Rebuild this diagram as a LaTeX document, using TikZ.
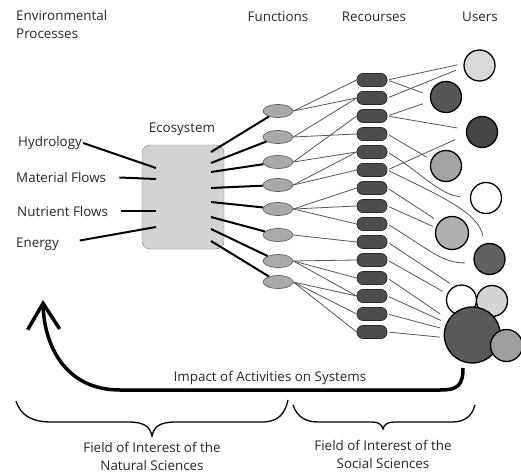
\documentclass[tikz,border=0pt]{standalone}
\usepackage{fontspec}
\setmainfont{Open Sans}
\usepackage{tikz}
\usetikzlibrary{arrows.meta,positioning,shapes.geometric}

\definecolor{ecofill}{HTML}{D3D3D3}
\definecolor{funcfill}{HTML}{A9A9A9}
\definecolor{resfill}{HTML}{4D4D4D}
\definecolor{linkgray}{HTML}{555555}

\begin{document}
\begin{tikzpicture}[x=1pt,y=-1pt,node distance=4.3pt,
  txt/.style={font=\fontsize{13.4}{18}\selectfont,text=black!85,inner sep=1pt},
  func/.style={ellipse,draw=black!60,fill=funcfill,line width=0.7pt,minimum width=30pt,minimum height=13pt,inner sep=0pt},
  res/.style={draw=black!85,fill=resfill,line width=0.7pt,rounded corners=6pt,minimum width=30pt,minimum height=13pt,inner sep=0pt},
  user/.style={circle,draw=black,line width=1.3pt,inner sep=0pt,minimum size=31pt},
  flow/.style={line width=2pt},
  link/.style={linkgray,line width=0.8pt},
  use/.style={linkgray,line width=0.8pt,shorten <=2pt,shorten >=6pt},
  brace/.style={line width=1.3pt}]
\useasboundingbox (0,0) rectangle (521,473);

% headings
\node[txt,anchor=north west,align=left] (env) at (15,9) {Environmental\\Processes};
\node[txt] (fn) at (278,17) {Functions};
\node[txt] (rc) at (374,17) {Recourses};
\node[txt] (us) at (480,17) {Users};

% ecosystem and inputs
\node[draw=black!50,fill=ecofill,rounded corners=8pt,minimum width=82pt,minimum height=104pt] (eco) at (183,197) {};
\node[txt] (ecol) at (182,129) {Ecosystem};
\node[txt,anchor=west] (hyd) at (17,143) {Hydrology};
\node[txt,anchor=west] (mat) at (15,177) {Material Flows};
\node[txt,anchor=west] (nut) at (16,211) {Nutrient Flows};
\node[txt,anchor=west] (ene) at (15,244) {Energy};
\coordinate (in1) at (156,168);
\coordinate (in2) at (156,179);
\coordinate (in3) at (156,211);
\coordinate (in4) at (156,227);
\draw[flow] (hyd.east) -- (in1);
\draw[flow,shorten <=12pt] (mat.east) -- (in2);
\draw[flow,shorten <=12pt] (nut.east) -- (in3);
\draw[flow,shorten <=20pt] (ene.east) -- (in4);

% functions
\node[func] (f1) at (278,111) {};
\node[func] (f2) at (278,137) {};
\node[func] (f3) at (278,162) {};
\node[func] (f4) at (278,185) {};
\node[func] (f5) at (278,209) {};
\node[func] (f6) at (278,235) {};
\node[func] (f7) at (278,261) {};
\node[func] (f8) at (278,282) {};
\coordinate (o1) at (211,152);
\coordinate (o2) at (211,163);
\coordinate (o3) at (211,172);
\coordinate (o4) at (211,188);
\coordinate (o5) at (211,202);
\coordinate (o6) at (211,217);
\coordinate (o7) at (211,229);
\coordinate (o8) at (211,241);
\draw[flow] (o1) -- (f1); \draw[flow] (o2) -- (f2); \draw[flow] (o3) -- (f3); \draw[flow] (o4) -- (f4);
\draw[flow] (o5) -- (f5); \draw[flow] (o6) -- (f6); \draw[flow] (o7) -- (f7); \draw[flow] (o8) -- (f8);

% recourses
\node[res] (r1) at (372,80) {};
\node[res,below=of r1] (r2) {};
\node[res,below=of r2] (r3) {};
\node[res,below=of r3] (r4) {};
\node[res,below=of r4] (r5) {};
\node[res,below=of r5] (r6) {};
\node[res,below=of r6] (r7) {};
\node[res,below=of r7] (r8) {};
\node[res,below=of r8] (r9) {};
\node[res,below=of r9] (r10) {};
\node[res,below=of r10] (r11) {};
\node[res,below=of r11] (r12) {};
\node[res,below=of r12] (r13) {};
\node[res,below=of r13] (r14) {};
\node[res,below=of r14] (r15) {};
\draw[link] (f1.east) -- (r1.west); \draw[link] (f1.east) -- (r2.west);
\draw[link] (f2.east) -- (r2.west); \draw[link] (f2.east) -- (r4.west);
\draw[link] (f3.east) -- (r3.west); \draw[link] (f3.east) -- (r5.west);
\draw[link] (f4.east) -- (r5.west); \draw[link] (f4.east) -- (r6.west);
\draw[link] (f5.east) -- (r7.west); \draw[link] (f5.east) -- (r8.west); \draw[link] (f5.east) -- (r9.west);
\draw[link] (f6.east) -- (r10.west);
\draw[link] (f7.east) -- (r11.west); \draw[link] (f7.east) -- (r12.west); \draw[link] (f7.east) -- (r13.west);
\draw[link] (f8.east) -- (r13.west); \draw[link] (f8.east) -- (r14.west); \draw[link] (f8.east) -- (r15.west);

% users
\node[user,fill=black!15] (u1) at (479.5,65.5) {};
\node[user,fill=black!66] (u2) at (446,97) {};
\node[user,fill=black!73] (u3) at (482,132) {};
\node[user,fill=black!36] (u4) at (446,166) {};
\node[user,fill=white] (u5) at (486,198) {};
\node[user,fill=black!31,minimum size=33pt] (u6) at (452,233) {};
\node[user,fill=black!62] (u7) at (489.5,259) {};
\node[user,fill=white,minimum size=30pt] (u8) at (461.5,300) {};
\node[user,fill=black!17] (u9) at (492,301) {};
\node[user,fill=black!65,minimum size=56pt] (u10) at (472.3,335) {};
\node[user,fill=black!38,minimum size=32pt] (u11) at (506.5,345.5) {};
\draw[use] (r1.east) -- (u1.173);
\draw[use,shorten >=8pt] (r1.east) -- (u2.175);
\draw[use,shorten >=8pt] (r2.east) -- (u1.186);
\draw[use,shorten >=8pt] (r3.east) -- (u2.195);
\draw[use,shorten >=9pt] (r3.east) -- (u3.171);
\draw[use,shorten >=5pt] (r4.east) -- (u4.157);
\draw[use,shorten >=10pt] (r5.east) .. controls (420,172) and (440,195) .. (u5.178);
\draw[use,shorten >=12pt] (r6.east) -- (u3.190);
\draw[use,shorten >=8pt] (r6.east) .. controls (440,196) and (478,212) .. (u7.108);
\draw[use] (r7.east) -- (u6.139);
\draw[use,shorten >=3pt] (r8.east) -- (u6.162);
\draw[use,shorten >=9pt] (r9.east) .. controls (430,250) and (442,263) .. (u7.194);
\draw[use,shorten >=5pt] (r10.east) -- (u8.118);
\draw[use,shorten >=5pt] (r11.east) -- (u8.157);
\draw[use,shorten >=10pt] (r12.east) -- (u10.147);
\draw[use] (r13.east) -- (u10.155);
\draw[use,shorten >=4pt] (r14.east) -- (u10.168);
\draw[use,shorten >=4pt] (r15.east) -- (u10.185);

% impact arrow
\coordinate (as) at (463,368);
\coordinate (ae) at (43,300);
\draw[line width=3.5pt,-{Straight Barb[length=26pt,width=32pt]}] (as) .. controls (463,386) and (457,390) .. (440,390) -- (120,390) .. controls (65,390) and (44,345) .. (ae);
\node[txt] (imp) at (270,378) {Impact of Activities on Systems};

% fields
\draw[brace] (16,401) .. controls (21,416) and (32,422) .. (52,422) -- (128,422) .. controls (145,422) and (150,427) .. (152,436) .. controls (154,427) and (159,422) .. (176,422) -- (262,422) .. controls (278,422) and (285,414) .. (288,400);
\draw[brace] (293,405) .. controls (297,417) and (306,422) .. (318,422) -- (372,422) .. controls (379,422) and (382,425) .. (383,429) .. controls (384,425) and (387,422) .. (394,422) -- (452,422) .. controls (465,422) and (472,416) .. (475,405);
\node[txt,align=center] (nat) at (152,456) {Field of Interest of the\\Natural Sciences};
\node[txt,align=center] (soc) at (383,454) {Field of Interest of the\\Social Sciences};
\end{tikzpicture}
\end{document}
